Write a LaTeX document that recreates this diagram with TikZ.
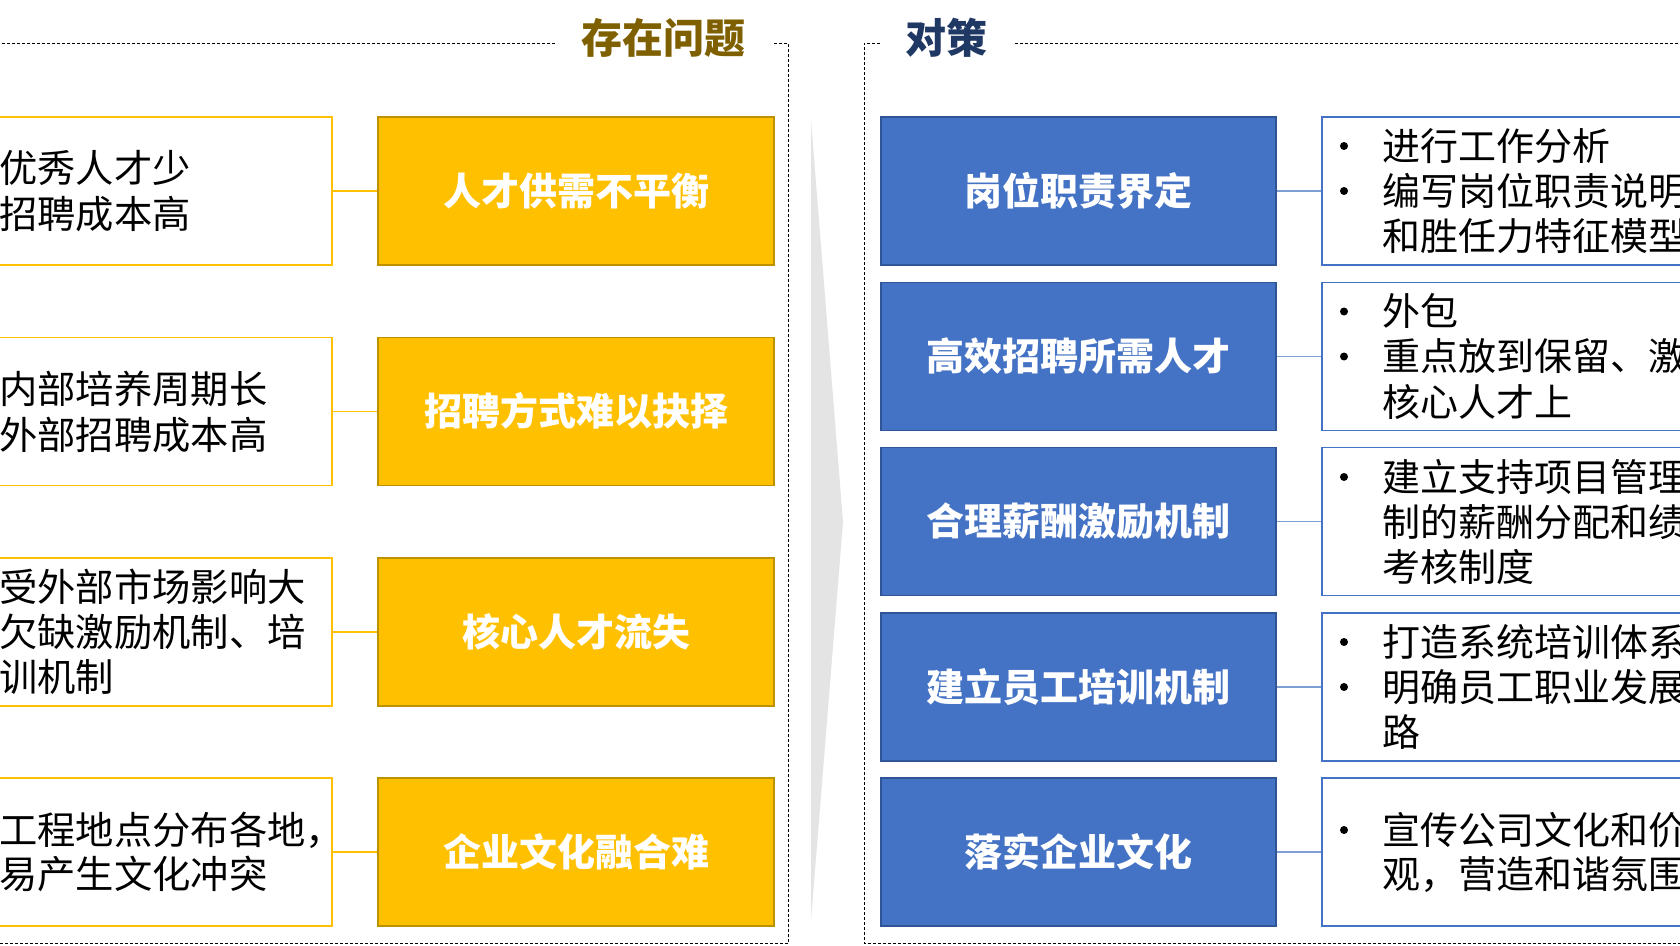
\documentclass[tikz,border=0pt]{standalone}
\usepackage{fontspec}
\setmainfont{Noto Sans CJK SC}
\definecolor{ygold}{HTML}{FFC000}
\definecolor{ydark}{HTML}{BF9000}
\definecolor{bfill}{HTML}{4472C4}
\definecolor{bdark}{HTML}{2F5597}
\definecolor{tbrown}{HTML}{7F6000}
\definecolor{tnavy}{HTML}{203864}
\definecolor{lgray}{HTML}{E4E4E4}
\definecolor{bline}{HTML}{7F9FD4}
\begin{document}
\begin{tikzpicture}[x=1pt,y=-1pt,
  lbox/.style={draw=ygold,line width=1.5pt,fill=white,minimum width=342pt,minimum height=148pt,inner sep=0pt},
  ybox/.style={draw=ydark,line width=1.5pt,fill=ygold,minimum width=396pt,minimum height=148pt,inner sep=0pt,text=white,font=\fontsize{38}{46}\selectfont\bfseries,text height=30.4pt,text depth=1.9pt},
  bbox/.style={draw=bdark,line width=1.5pt,fill=bfill,minimum width=395pt,minimum height=148pt,inner sep=0pt,text=white,font=\fontsize{38}{46}\selectfont\bfseries,text height=30.4pt,text depth=1.9pt},
  rbox/.style={draw=bfill,line width=1.5pt,fill=white,minimum width=378pt,minimum height=148pt,inner sep=0pt},
  ltxt/.style={anchor=west,inner sep=0pt,font=\fontsize{38.3}{46}\selectfont,text height=30.6pt,text depth=1.9pt,text=black},
  rtxt/.style={anchor=west,inner sep=0pt,font=\fontsize{38}{46}\selectfont,text height=30.4pt,text depth=1.9pt,text=black},
  bul/.style={circle,fill=black,draw=none,minimum size=8pt,inner sep=0pt},
  yline/.style={draw=ygold,line width=1.5pt},
  blline/.style={draw=bline,line width=1.5pt},
  dashline/.style={draw=black,line width=0.9pt,dash pattern=on 3pt off 2pt},
  ttl/.style={inner sep=0pt,font=\fontsize{41}{41}\selectfont\bfseries,text height=32.8pt,text depth=2pt}
]
\useasboundingbox (0,0) rectangle (1680,945);
\clip (0,0) rectangle (1680,945);
\fill[white] (0,0) rectangle (1680,945);

% dashed frames
\draw[dashline] (555,43) -- (-5,43);
\draw[dashline] (774,43) -- (788,43) -- (788,943.5) -- (-5,943.5);
\draw[dashline] (880,43) -- (864,43) -- (864,943.5) -- (1690,943.5);
\draw[dashline] (1015,43) -- (1690,43);

% titles
\node[ttl,text=tbrown] (t1) at (663,38) {存在问题};
\node[ttl,text=tnavy] (t2) at (946,38) {对策};

% gray arrow
\fill[lgray] (811,120) -- (843,522) -- (811,920) -- cycle;

% left column
\node[lbox] (w1) at (161,191) {};
\node[lbox] (w2) at (161,411.5) {};
\node[lbox] (w3) at (161,632) {};
\node[lbox] (w4) at (161,852) {};
\node[ybox] (y1) at (576,191) {人才供需不平衡};
\node[ybox] (y2) at (576,411.5) {招聘方式难以抉择};
\node[ybox] (y3) at (576,632) {核心人才流失};
\node[ybox] (y4) at (576,852) {企业文化融合难};
\draw[yline] (w1.east) -- (y1.west);
\draw[yline] (w2.east) -- (y2.west);
\draw[yline] (w3.east) -- (y3.west);
\draw[yline] (w4.east) -- (y4.west);

\node[ltxt] (l1a) at (-1,168) {优秀人才少};
\node[ltxt] (l1b) at (-1,214) {招聘成本高};
\node[ltxt] (l2a) at (-1,389) {内部培养周期长};
\node[ltxt] (l2b) at (-1,435) {外部招聘成本高};
\node[ltxt] (l3a) at (-1,587) {受外部市场影响大};
\node[ltxt] (l3b) at (-1,632) {欠缺激励机制、培};
\node[ltxt] (l3c) at (-1,677) {训机制};
\node[ltxt] (l4a) at (-1,830) {工程地点分布各地，};
\node[ltxt] (l4b) at (-1,874) {易产生文化冲突};

% right column
\node[bbox] (c1) at (1078.5,191) {岗位职责界定};
\node[bbox] (c2) at (1078.5,356.25) {高效招聘所需人才};
\node[bbox] (c3) at (1078.5,521.5) {合理薪酬激励机制};
\node[bbox] (c4) at (1078.5,686.75) {建立员工培训机制};
\node[bbox] (c5) at (1078.5,852) {落实企业文化};
\node[rbox] (r1) at (1511,191) {};
\node[rbox] (r2) at (1511,356.25) {};
\node[rbox] (r3) at (1511,521.5) {};
\node[rbox] (r4) at (1511,686.75) {};
\node[rbox] (r5) at (1511,852) {};
\draw[blline] (c1.east) -- (r1.west);
\draw[blline] (c2.east) -- (r2.west);
\draw[blline] (c3.east) -- (r3.west);
\draw[blline] (c4.east) -- (r4.west);
\draw[blline] (c5.east) -- (r5.west);

% right texts
\node[bul] (b1a) at (1344,146) {};
\node[rtxt] (s1a) at (1382,146) {进行工作分析};
\node[bul] (b1b) at (1344,191) {};
\node[rtxt] (s1b) at (1382,191) {编写岗位职责说明};
\node[rtxt] (s1c) at (1382,236) {和胜任力特征模型};

\node[bul] (b2a) at (1344,311.5) {};
\node[rtxt] (s2a) at (1382,311.5) {外包};
\node[bul] (b2b) at (1344,356.5) {};
\node[rtxt] (s2b) at (1382,356.5) {重点放到保留、激};
\node[rtxt] (s2c) at (1382,402) {核心人才上};

\node[bul] (b3a) at (1344,477) {};
\node[rtxt] (s3a) at (1382,477) {建立支持项目管理};
\node[rtxt] (s3b) at (1382,522) {制的薪酬分配和绩};
\node[rtxt] (s3c) at (1382,567) {考核制度};

\node[bul] (b4a) at (1344,642) {};
\node[rtxt] (s4a) at (1382,642) {打造系统培训体系};
\node[bul] (b4b) at (1344,687) {};
\node[rtxt] (s4b) at (1382,687) {明确员工职业发展};
\node[rtxt] (s4c) at (1382,732) {路};

\node[bul] (b5a) at (1344,830) {};
\node[rtxt] (s5a) at (1382,830) {宣传公司文化和价};
\node[rtxt] (s5b) at (1382,874) {观，营造和谐氛围};
\end{tikzpicture}
\end{document}
